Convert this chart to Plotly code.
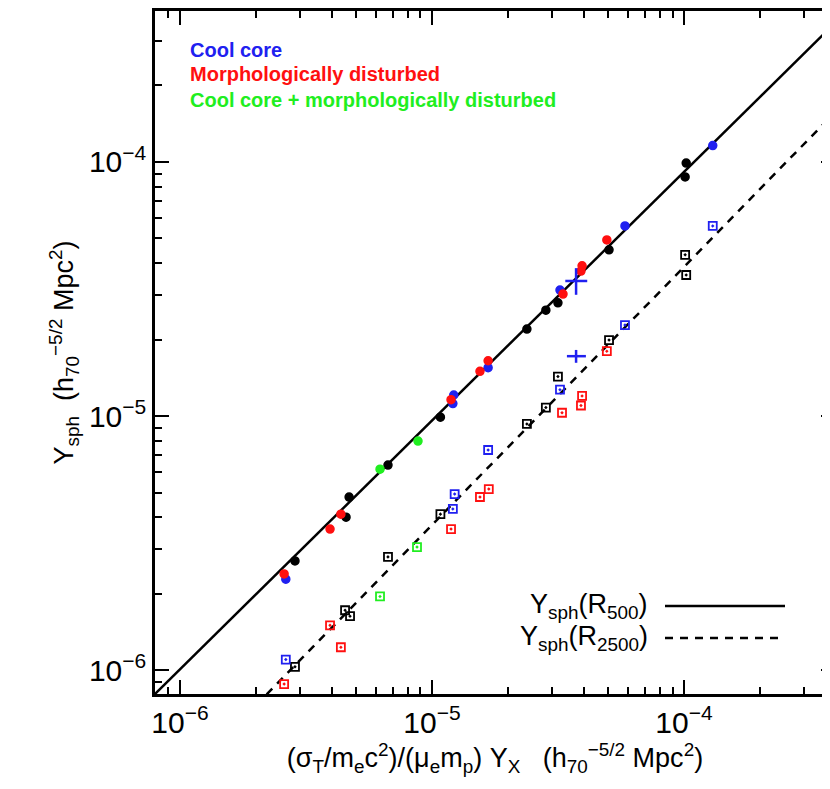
import plotly.graph_objects as go
import math

# ---- data: R500 (circles) ----
r500_black_x = [2.86e-6, 4.56e-6, 4.69e-6, 6.69e-6, 1.08e-5, 2.38e-5, 2.83e-5, 3.16e-5, 5.04e-5, 1.01e-4, 1.02e-4]
r500_black_y = [2.69e-6, 4.00e-6, 4.80e-6, 6.41e-6, 9.9e-6, 2.20e-5, 2.61e-5, 2.79e-5, 4.51e-5, 8.73e-5, 9.9e-5]
r500_blue_x = [2.63e-6, 1.21e-5, 1.22e-5, 1.67e-5, 3.22e-5, 5.83e-5, 1.30e-4]
r500_blue_y = [2.28e-6, 1.12e-5, 1.21e-5, 1.55e-5, 3.13e-5, 5.60e-5, 1.16e-4]
r500_red_x = [2.59e-6, 3.94e-6, 4.35e-6, 1.19e-5, 1.55e-5, 1.67e-5, 3.31e-5, 3.90e-5, 3.94e-5, 4.94e-5]
r500_red_y = [2.39e-6, 3.59e-6, 4.11e-6, 1.16e-5, 1.50e-5, 1.65e-5, 3.02e-5, 3.72e-5, 3.90e-5, 4.93e-5]
r500_green_x = [6.22e-6, 8.80e-6]
r500_green_y = [6.18e-6, 7.97e-6]

# ---- data: R2500 (squares) ----
r2500_black_x = [2.86e-6, 4.52e-6, 4.73e-6, 6.69e-6, 1.08e-5, 2.38e-5, 2.83e-5, 3.16e-5, 5.04e-5, 1.01e-4, 1.02e-4]
r2500_black_y = [1.03e-6, 1.72e-6, 1.63e-6, 2.79e-6, 4.11e-6, 9.31e-6, 1.08e-5, 1.43e-5, 1.99e-5, 4.31e-5, 3.59e-5]
r2500_blue_x = [2.63e-6, 1.21e-5, 1.23e-5, 1.67e-5, 3.22e-5, 5.83e-5, 1.30e-4]
r2500_blue_y = [1.10e-6, 4.31e-6, 4.93e-6, 7.35e-6, 1.27e-5, 2.28e-5, 5.60e-5]
r2500_red_x = [2.59e-6, 3.94e-6, 4.35e-6, 1.19e-5, 1.55e-5, 1.68e-5, 3.28e-5, 3.90e-5, 3.94e-5, 4.94e-5]
r2500_red_y = [8.81e-7, 1.50e-6, 1.23e-6, 3.59e-6, 4.80e-6, 5.16e-6, 1.03e-5, 1.10e-5, 1.20e-5, 1.80e-5]
r2500_green_x = [6.22e-6, 8.72e-6]
r2500_green_y = [1.95e-6, 3.05e-6]

# big blue crosses (with error bars)
big_x = [3.73e-5, 3.73e-5]
big_y = [3.40e-5, 1.72e-5]
big_ex_plus = [0.4e-5, 0.35e-5]
big_ex_minus = [0.35e-5, 0.3e-5]
big_ey_plus = [0.42e-5, 0.1e-5]
big_ey_minus = [0.4e-5, 0.1e-5]

# fitted relations: log10 y = a + b*(log10 x + 5)
fit_x = [7.0e-7, 5.0e-4]
fit500_a, fit500_b = -5.018, 0.979
fit2500_a, fit2500_b = -5.429, 1.016

def fit(a, b, xs):
    return [10 ** (a + b * (math.log10(x) + 5)) for x in xs]

BLACK = "#000000"; BLUE = "#2020f0"; RED = "#ff1010"; GREEN = "#20ee20"
fig = go.Figure()
fig.add_trace(go.Scatter(x=fit_x, y=fit(fit500_a, fit500_b, fit_x), mode="lines",
                         line=dict(color="black", width=2.5)))
fig.add_trace(go.Scatter(x=fit_x, y=fit(fit2500_a, fit2500_b, fit_x), mode="lines",
                         line=dict(color="black", width=2.5, dash="8px,7px")))
for xs, ys, c in [(r500_black_x, r500_black_y, BLACK), (r500_blue_x, r500_blue_y, BLUE),
                  (r500_red_x, r500_red_y, RED), (r500_green_x, r500_green_y, GREEN)]:
    fig.add_trace(go.Scatter(x=xs, y=ys, mode="markers",
                             marker=dict(symbol="circle-x", size=8, color=c, line=dict(color=c, width=1.5))))
for xs, ys, c in [(r2500_black_x, r2500_black_y, BLACK), (r2500_blue_x, r2500_blue_y, BLUE),
                  (r2500_red_x, r2500_red_y, RED), (r2500_green_x, r2500_green_y, GREEN)]:
    fig.add_trace(go.Scatter(x=xs, y=ys, mode="markers",
                             marker=dict(symbol="square-open-dot", size=8, color=c, line=dict(color=c, width=1.8))))
fig.add_trace(go.Scatter(x=big_x, y=big_y, mode="markers", marker=dict(size=1, color=BLUE),
                         error_x=dict(type="data", symmetric=False, array=big_ex_plus, arrayminus=big_ex_minus,
                                      color=BLUE, thickness=2.5, width=0),
                         error_y=dict(type="data", symmetric=False, array=big_ey_plus, arrayminus=big_ey_minus,
                                      color=BLUE, thickness=2.5, width=0)))

decades = [1e-6, 1e-5, 1e-4]
dec_text = ["10<sup>−6</sup>", "10<sup>−5</sup>", "10<sup>−4</sup>"]
FONT = "Liberation Sans, Arial, sans-serif"
axis_common = dict(type="log", showgrid=False, zeroline=False, showline=True, linecolor="black",
                   linewidth=2.5, mirror="allticks", ticks="inside", ticklen=14, tickwidth=2,
                   tickcolor="black", tickmode="array", tickvals=decades, ticktext=dec_text,
                   automargin=False,
                   tickfont=dict(size=30, color="black", family=FONT),
                   minor=dict(ticks="inside", ticklen=7, tickwidth=2, tickcolor="black",
                              dtick="D1", showgrid=False))
fig.update_xaxes(**axis_common, range=[-6.099, -3.401],
                 title=dict(text="(σ<sub>T</sub>/m<sub>e</sub>c<sup>2</sup>)/(μ<sub>e</sub>m<sub>p</sub>) Y<sub>X</sub>   (h<sub>70</sub><sup>−5/2</sup> Mpc<sup>2</sup>)",
                            font=dict(size=27, color="black", family=FONT), standoff=10))
fig.update_yaxes(**axis_common, range=[-6.094, -3.406],
                 title=dict(text="Y<sub>sph</sub>  (h<sub>70</sub><sup>−5/2</sup> Mpc<sup>2</sup>)",
                            font=dict(size=27, color="black", family=FONT), standoff=8))

anns = [("Cool core", BLUE, 42), ("Morphologically disturbed", RED, 66),
        ("Cool core + morphologically disturbed", GREEN, 92)]
annotations = [dict(xref="paper", yref="paper", x=(180 - 147) / 680, y=(686 - yy) / 683, text="<b>%s</b>" % t,
                    showarrow=False, xanchor="left", yanchor="middle",
                    font=dict(size=20, color=c, family=FONT)) for t, c, yy in anns]
annotations += [
    dict(xref="paper", yref="paper", x=(642 - 147) / 680, y=(686 - 598) / 683,
         text="Y<sub>sph</sub>(R<sub>500</sub>)", showarrow=False, xanchor="right", yanchor="middle",
         font=dict(size=27, color="black", family=FONT)),
    dict(xref="paper", yref="paper", x=(642 - 147) / 680, y=(686 - 630) / 683,
         text="Y<sub>sph</sub>(R<sub>2500</sub>)", showarrow=False, xanchor="right", yanchor="middle",
         font=dict(size=27, color="black", family=FONT)),
]
shapes = [
    dict(type="line", xref="paper", yref="paper", x0=(657 - 147) / 680, x1=(777 - 147) / 680,
         y0=(686 - 598) / 683, y1=(686 - 598) / 683, line=dict(color="black", width=2.5)),
    dict(type="line", xref="paper", yref="paper", x0=(657 - 147) / 680, x1=(777 - 147) / 680,
         y0=(686 - 630) / 683, y1=(686 - 630) / 683, line=dict(color="black", width=2.5, dash="8px,7px")),
]
fig.update_layout(width=830, height=789, margin=dict(l=147, r=3, t=3, b=103),
                  plot_bgcolor="white", paper_bgcolor="white", showlegend=False,
                  annotations=annotations, shapes=shapes, font=dict(family=FONT))
fig.write_html("out.html")
